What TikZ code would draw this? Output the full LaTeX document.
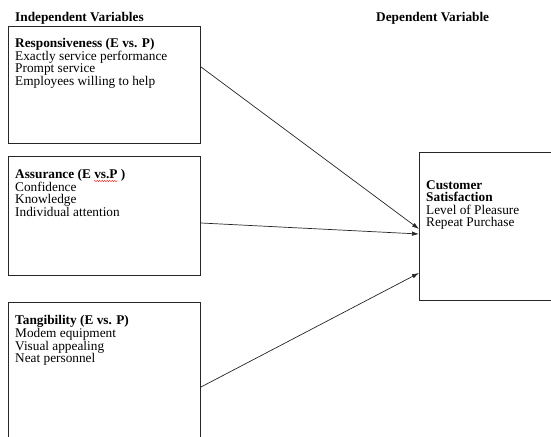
\documentclass[tikz,border=0pt]{standalone}
\usepackage{fontspec}
\setmainfont{Liberation Serif}
\usetikzlibrary{arrows.meta,calc,decorations.pathmorphing,positioning}

\tikzset{
  varbox/.style={draw=black!85, line width=1pt, minimum width=192pt, inner sep=0pt, anchor=north west},
  vartext/.style={anchor=north west, align=left, inner sep=0pt, font=\fontsize{13.3}{12.6}\selectfont},
  heading/.style={anchor=base west, inner sep=0pt, font=\fontsize{13.3}{13}\selectfont\bfseries},
  arr/.style={-{Latex[length=7pt,width=4.5pt]}, line width=0.7pt, black!85},
}

\begin{document}
\begin{tikzpicture}[x=1pt,y=-1pt]

\clip (0,0) rectangle (551,436);

% headings
\node[heading] (indep) at (15,22) {Independent Variables};
\node[heading] (dep) at (376,22) {Dependent Variable};

% boxes
\node[varbox, minimum height=117pt] (resp) at (8,26) {};
\node[varbox, minimum height=119pt] (assur) at (8,156) {};
\node[varbox, minimum height=150pt] (tang) at (8,302) {};
\node[varbox, minimum width=150pt, minimum height=148pt] (cust) at (419,152) {};

% box texts
\node[vartext] (resptxt) at ([xshift=7pt,yshift=-12pt]resp.north west)
  {\textbf{Responsiveness (E vs. P)}\\Exactly service performance\\Prompt service\\Employees willing to help};
\node[vartext] (assurtxt) at ([xshift=7pt,yshift=-13pt]assur.north west)
  {\textbf{Assurance (E vs.P )}\\Confidence\\Knowledge\\Individual attention};
\node[vartext] (tangtxt) at ([xshift=7pt,yshift=-13.5pt]tang.north west)
  {\textbf{Tangibility (E vs. P)}\\Modem equipment\\Visual appealing\\Neat personnel};
\node[vartext] (custtxt) at ([xshift=7pt,yshift=-28pt]cust.north west)
  {\textbf{Customer}\\\textbf{Satisfaction}\\Level of Pleasure\\Repeat Purchase};

% spelling mark
\draw[red, line width=0.4pt, decorate, decoration={snake, amplitude=0.6pt, segment length=2.5pt}]
  (94,181) -- (118,181);

% arrows
\draw[arr] ([yshift=-41pt]resp.north east) -- ([yshift=-77pt]cust.north west);
\draw[arr] ([yshift=-67pt]assur.north east) -- ([yshift=-82pt]cust.north west);
\draw[arr] ([yshift=-85pt]tang.north east) -- ([yshift=-121pt]cust.north west);

\end{tikzpicture}
\end{document}
